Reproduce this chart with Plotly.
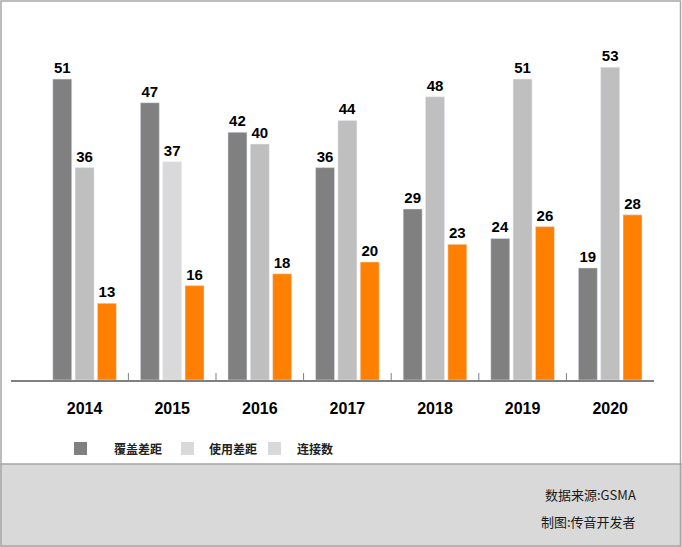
import plotly.graph_objects as go

years = ["2014", "2015", "2016", "2017", "2018", "2019", "2020"]
coverage_gap = [51, 47, 42, 36, 29, 24, 19]
usage_gap = [36, 37, 40, 44, 48, 51, 53]
connections = [13, 16, 18, 20, 23, 26, 28]
series_names = ["覆盖差距", "使用差距", "连接数"]
source_lines = ["数据来源:GSMA", "制图:传音开发者"]

W, H = 682, 547
ML, MR, MT, MB = 11, 28, 26, 167
PW, PH = W - ML - MR, H - MT - MB


def px(x):
    return (x - ML) / PW


def py(y):
    return (H - MB - y) / PH


c_dark = "#808080"
c_light = "#bfbfbf"
c_lighter = "#d9d9d9"
c_orange = "#ff8000"
usage_colors = [c_lighter if y == "2015" else c_light for y in years]

label_font = dict(family="Liberation Sans, Arial, sans-serif", size=15, color="#000000", weight="bold")

fig = go.Figure()
fig.add_trace(go.Bar(x=years, y=coverage_gap, name=series_names[0], marker_color=c_dark,
                     texttemplate="%{y}", textposition="outside", textfont=label_font,
                     cliponaxis=False, showlegend=False))
fig.add_trace(go.Bar(x=years, y=usage_gap, name=series_names[1], marker_color=usage_colors,
                     texttemplate="%{y}", textposition="outside", textfont=label_font,
                     cliponaxis=False, showlegend=False))
fig.add_trace(go.Bar(x=years, y=connections, name=series_names[2], marker_color=c_orange,
                     texttemplate="%{y}", textposition="outside", textfont=label_font,
                     cliponaxis=False, showlegend=False))

xr = [-0.84, 6.5]
shapes = []
# bottom gray panel
shapes.append(dict(type="rect", xref="paper", yref="paper", x0=px(0), x1=px(W), y0=py(H), y1=py(464),
                   fillcolor="#d9d9d9", line=dict(width=0), layer="below"))
shapes.append(dict(type="line", xref="paper", yref="paper", x0=px(0), x1=px(W), y0=py(464), y1=py(464),
                   line=dict(color="#a6a6a6", width=1.5)))
# outer border
shapes.append(dict(type="rect", xref="paper", yref="paper", x0=px(1), x1=px(680.5), y0=py(546), y1=py(1),
                   fillcolor="rgba(0,0,0,0)", line=dict(color="#a6a6a6", width=1.5)))
# category boundary ticks (inside, between groups)
for i in range(len(years) - 1):
    shapes.append(dict(type="line", xref="x", yref="paper", x0=i + 0.5, x1=i + 0.5,
                       y0=0, y1=py(373), line=dict(color=c_dark, width=1)))

annotations = []
legend_swatches = [c_dark, c_lighter, c_lighter]
legend_sw_x = [74, 181, 268]
legend_txt_x = [112, 207, 295]
for name, col, sx, tx in zip(series_names, legend_swatches, legend_sw_x, legend_txt_x):
    shapes.append(dict(type="rect", xref="paper", yref="paper", x0=px(sx), x1=px(sx + 13),
                       y0=py(455), y1=py(442), fillcolor=col, line=dict(width=0)))
    annotations.append(dict(text=name, xref="paper", yref="paper", x=px(tx), y=py(448.5),
                            xanchor="left", yanchor="middle", showarrow=False,
                            font=dict(family="Noto Sans CJK SC", size=12, color="#222222", weight="bold")))

for line_text, yy in zip(source_lines, [494, 521]):
    annotations.append(dict(text=line_text, xref="paper", yref="paper", x=px(638), y=py(yy),
                            xanchor="right", yanchor="middle", showarrow=False,
                            font=dict(family="Noto Sans CJK SC", size=13, color="#1a1a1a")))

fig.update_layout(
    width=W, height=H,
    margin=dict(l=ML, r=MR, t=MT, b=MB, pad=0),
    paper_bgcolor="white", plot_bgcolor="white",
    barmode="group", bargap=0.235, bargroupgap=0.15,
    xaxis=dict(type="category", range=xr, showline=True, linecolor=c_dark, linewidth=2,
               ticks="", showgrid=False, zeroline=False, ticklabelstandoff=13,
               tickfont=dict(family="Liberation Sans, Arial, sans-serif", size=16, color="#000000", weight="bold")),
    yaxis=dict(range=[0, 60], visible=False, showgrid=False, zeroline=False),
    shapes=shapes, annotations=annotations,
    showlegend=False,
)

fig.write_html("out.html", config={"displayModeBar": False},
               post_script="document.body.style.margin='0';document.body.style.overflow='hidden';")
